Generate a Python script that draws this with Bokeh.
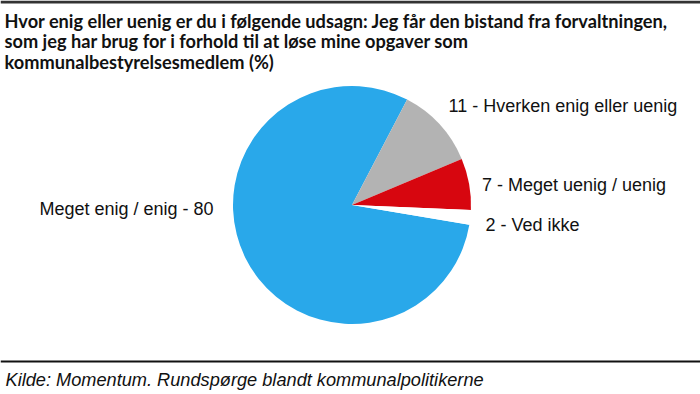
import math
from bokeh.plotting import figure
from bokeh.models import Range1d, ColumnDataSource
from bokeh.core.properties import value
from bokeh.embed import file_html
from bokeh.resources import INLINE

# ---- data ----
categories = ["Meget enig / enig", "Hverken enig eller uenig", "Meget uenig / uenig", "Ved ikke"]
values = [80, 11, 7, 2]
colors = ["#29a8ea", "#b3b3b3", "#d7060f", "#ffffff"]
title_lines = [
    "Hvor enig eller uenig er du i følgende udsagn: Jeg får den bistand fra forvaltningen,",
    "som jeg har brug for i forhold til at løse mine opgaver som",
    "kommunalbestyrelsesmedlem (%)",
]
source_text = "Kilde: Momentum. Rundspørge blandt kommunalpolitikerne"

W, H = 700, 394
TXT_OFF = 6  # empirical correction of rendered text baseline

def fx(X):
    return X

def fy(Y):
    return H - Y

def ty(Y):
    return H - (Y - TXT_OFF)

p = figure(width=W, height=H, x_range=Range1d(0, W), y_range=Range1d(0, H),
           output_backend="svg", toolbar_location=None, min_border=0,
           x_axis_type=None, y_axis_type=None)
p.grid.visible = False
p.outline_line_color = None
p.background_fill_color = "white"
p.border_fill_color = "white"

# ---- pie ----
total = float(sum(values))
a0 = math.radians(-9.6)  # clockwise start
cum = [0.0]
for v in values:
    cum.append(cum[-1] + v / total)
starts = [a0 - cum[i + 1] * 2 * math.pi for i in range(len(values))]
ends = [a0 - cum[i] * 2 * math.pi for i in range(len(values))]
cx, cy, r = fx(351.5), fy(204.5), 119
src = ColumnDataSource(dict(start=starts, end=ends, color=colors,
                            x=[cx] * len(values), y=[cy] * len(values)))
p.wedge(x="x", y="y", radius=r, start_angle="start", end_angle="end",
        direction="anticlock", fill_color="color", line_color=None, source=src)

# ---- labels ----
labels = [f"{categories[0]} - {values[0]}"] + [f"{v} - {c}" for c, v in zip(categories[1:], values[1:])]
lx = [fx(39), fx(448), fx(481.5), fx(485)]
ly = [ty(214), ty(111.5), ty(190), ty(230)]
p.text(x=lx, y=ly, text=labels, text_font=value("Liberation Sans"), text_font_size="18px",
       text_color="#111111", text_baseline="alphabetic", text_align="left")

# ---- title ----
p.text(x=[4] * 3, y=[ty(26), ty(46.5), ty(67)], text=title_lines, text_font=value("Lato"),
       text_font_style="bold", text_font_size="18.2px", text_color="#111111",
       text_baseline="alphabetic", text_align="left")

# ---- rules ----
p.segment(x0=[0], y0=[H - 1.5], x1=[W], y1=[H - 1.5], line_color="#333333", line_width=3)
p.segment(x0=[0], y0=[fy(361)], x1=[W], y1=[fy(361)], line_color="#111111", line_width=2)

# ---- source ----
p.text(x=[5], y=[ty(385)], text=[source_text], text_font=value("Liberation Sans"),
       text_font_style="italic", text_font_size="18.2px", text_color="#111111",
       text_baseline="alphabetic", text_align="left")

open("out.html", "w").write(file_html(p, INLINE))
